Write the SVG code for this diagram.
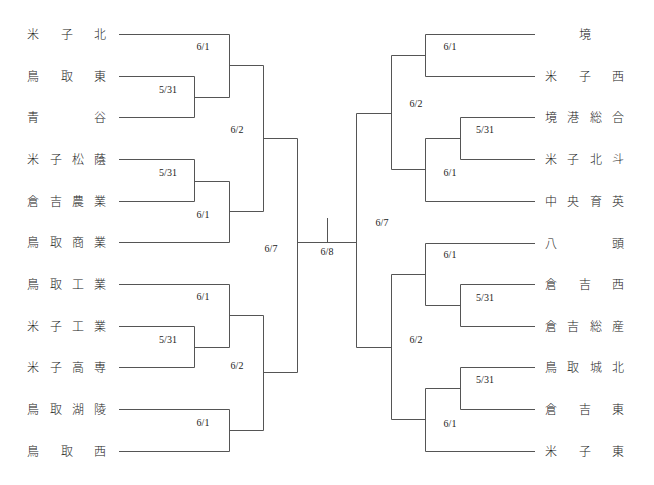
<svg xmlns="http://www.w3.org/2000/svg" width="654" height="485" viewBox="0 0 654 485">
<style>
.bg{fill:#ffffff}
.ln{fill:none;stroke:#555555;stroke-width:1}
.nm{font-family:"Noto Sans CJK JP","Noto Sans CJK SC",sans-serif;font-size:12px;font-weight:300;fill:#222222;text-anchor:middle}
.dt{font-family:"Liberation Serif",serif;font-size:10px;fill:#222222;text-anchor:middle}
</style>
<rect class="bg" x="0" y="0" width="654" height="485"/>
<g id="connectors">
<path class="ln" d="M119 34.5H229.5M119 76.5H194.5M119 117.5H194.5M119 159.5H194.5M119 201.5H194.5M119 242.5H229.5M119 284.5H229.5M119 326.5H194.5M119 367.5H194.5M119 409.5H229.5M119 451.5H229.5"/>
<path class="ln" d="M194.5 76.5V117.5M194.5 97.5H229.5"/>
<path class="ln" d="M229.5 34.5V97.5M229.5 65.5H263.5"/>
<path class="ln" d="M194.5 159.5V201.5M194.5 181.5H229.5"/>
<path class="ln" d="M229.5 181.5V242.5M229.5 211.5H263.5"/>
<path class="ln" d="M263.5 65.5V211.5M263.5 138.5H297.5"/>
<path class="ln" d="M194.5 326.5V367.5M194.5 347.5H229.5"/>
<path class="ln" d="M229.5 284.5V347.5M229.5 315.5H263.5"/>
<path class="ln" d="M229.5 409.5V451.5M229.5 430.5H263.5"/>
<path class="ln" d="M263.5 315.5V430.5M263.5 372.5H297.5"/>
<path class="ln" d="M297.5 138.5V372.5"/>
<path class="ln" d="M297.5 242.5H356.5M327.5 218V242.5"/>
<path class="ln" d="M425.5 34.5H535M425.5 76.5H535M460.5 117.5H535M460.5 159.5H535M425.5 201.5H535M425.5 243.5H535M460.5 284.5H535M460.5 326.5H535M460.5 367.5H535M460.5 409.5H535M425.5 451.5H535"/>
<path class="ln" d="M425.5 34.5V76.5M425.5 55.5H391.5"/>
<path class="ln" d="M460.5 117.5V159.5M460.5 138.5H425.5"/>
<path class="ln" d="M425.5 138.5V201.5M425.5 169.5H391.5"/>
<path class="ln" d="M391.5 55.5V169.5M391.5 113.5H356.5"/>
<path class="ln" d="M460.5 284.5V326.5M460.5 305.5H425.5"/>
<path class="ln" d="M425.5 243.5V305.5M425.5 274.5H391.5"/>
<path class="ln" d="M460.5 367.5V409.5M460.5 388.5H425.5"/>
<path class="ln" d="M425.5 388.5V451.5M425.5 419.5H391.5"/>
<path class="ln" d="M391.5 274.5V419.5M391.5 347.5H356.5"/>
<path class="ln" d="M356.5 113.5V347.5"/>
</g>
<g id="dates">
<text class="dt" x="203" y="49.5">6/1</text>
<text class="dt" x="168" y="92.5">5/31</text>
<text class="dt" x="237" y="132.5">6/2</text>
<text class="dt" x="168" y="175.5">5/31</text>
<text class="dt" x="203" y="217.5">6/1</text>
<text class="dt" x="271" y="251.5">6/7</text>
<text class="dt" x="203" y="299.5">6/1</text>
<text class="dt" x="168" y="342.5">5/31</text>
<text class="dt" x="237" y="368.5">6/2</text>
<text class="dt" x="203" y="425.5">6/1</text>
<text class="dt" x="327" y="254.5">6/8</text>
<text class="dt" x="450" y="49.5">6/1</text>
<text class="dt" x="416" y="106.5">6/2</text>
<text class="dt" x="485" y="132.5">5/31</text>
<text class="dt" x="450" y="175.5">6/1</text>
<text class="dt" x="382" y="225.5">6/7</text>
<text class="dt" x="450" y="257.5">6/1</text>
<text class="dt" x="485" y="300.5">5/31</text>
<text class="dt" x="416" y="342.5">6/2</text>
<text class="dt" x="485" y="382.5">5/31</text>
<text class="dt" x="450" y="426.5">6/1</text>
</g>
<g id="team-yonagokita"><text class="nm" x="33 67 100" y="39">米子北</text></g>
<g id="team-tottorihigashi"><text class="nm" x="33 67 100" y="81">鳥取東</text></g>
<g id="team-aoya"><text class="nm" x="33 100" y="122">青谷</text></g>
<g id="team-yonagoshoin"><text class="nm" x="33 56 78 100" y="164">米子松蔭</text></g>
<g id="team-kurayoshinogyo"><text class="nm" x="33 56 78 100" y="206">倉吉農業</text></g>
<g id="team-tottorishogyo"><text class="nm" x="33 56 78 100" y="247">鳥取商業</text></g>
<g id="team-tottorikogyo"><text class="nm" x="33 56 78 100" y="289">鳥取工業</text></g>
<g id="team-yonagokogyo"><text class="nm" x="33 56 78 100" y="331">米子工業</text></g>
<g id="team-yonagokosen"><text class="nm" x="33 56 78 100" y="372">米子高専</text></g>
<g id="team-tottorikoryo"><text class="nm" x="33 56 78 100" y="414">鳥取湖陵</text></g>
<g id="team-tottorinishi"><text class="nm" x="33 67 100" y="456">鳥取西</text></g>
<g id="team-sakai"><text class="nm" x="585" y="39">境</text></g>
<g id="team-yonagonishi"><text class="nm" x="551 585 618" y="81">米子西</text></g>
<g id="team-sakaiminatosogo"><text class="nm" x="551 573 596 618" y="122">境港総合</text></g>
<g id="team-yonagohokuto"><text class="nm" x="551 573 596 618" y="164">米子北斗</text></g>
<g id="team-chuoikuei"><text class="nm" x="551 573 596 618" y="206">中央育英</text></g>
<g id="team-yazu"><text class="nm" x="551 618" y="248">八頭</text></g>
<g id="team-kurayoshinishi"><text class="nm" x="551 585 618" y="289">倉吉西</text></g>
<g id="team-kurayoshisosan"><text class="nm" x="551 573 596 618" y="331">倉吉総産</text></g>
<g id="team-tottorijohoku"><text class="nm" x="551 573 596 618" y="372">鳥取城北</text></g>
<g id="team-kurayoshihigashi"><text class="nm" x="551 585 618" y="414">倉吉東</text></g>
<g id="team-yonagohigashi"><text class="nm" x="551 585 618" y="456">米子東</text></g>
</svg>
